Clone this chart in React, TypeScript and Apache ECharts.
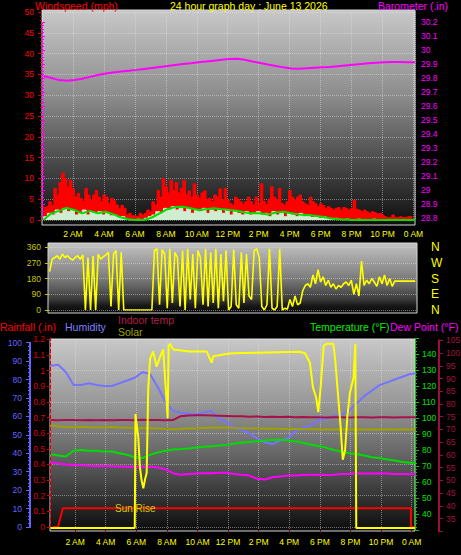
import React, { useEffect, useRef } from "react";
import * as echarts from "echarts";

const FONT = "'Liberation Sans', Arial, Helvetica, sans-serif";

// ---------- tick labels ----------
const timeLabels = ["2 AM", "4 AM", "6 AM", "8 AM", "10 AM", "12 PM", "2 PM", "4 PM", "6 PM", "8 PM", "10 PM", "0 AM"];
const timeTicks = [2, 4, 6, 8, 10, 12, 14, 16, 18, 20, 22, 24];
const compassTicks = [0, 90, 180, 270, 360];
const compassLabels = ["N", "E", "S", "W", "N"];

// ---------- panel 1 : wind (mph) & barometer (in) ----------
const gustStart = 0.1, gustStep = 1 / 6;
const windGust = [
  3.2, 3.0, 3.2, 4.4, 3.5, 7.6, 6.0, 9.0, 11.3, 10.0, 8.0, 9.5, 7.5, 5.5, 6.4, 5.2, 4.5, 7.6, 6.0, 4.8,
  6.0, 7.1, 5.5, 4.4, 6.0, 5.5, 4.0, 5.2, 4.6, 3.6, 2.8, 3.5, 2.8, 1.2, 1.6, 1.0, 1.0, 0.8, 1.6, 1.2,
  1.6, 2.4, 2.0, 4.4, 3.6, 7.1, 5.5, 10.0, 8.0, 6.5, 9.5, 7.1, 9.0, 6.5, 7.6, 9.5, 6.0, 7.0, 5.5, 8.7,
  6.0, 5.2, 6.5, 7.0, 5.0, 5.2, 4.4, 6.0, 5.5, 7.5, 4.8, 7.6, 4.8, 4.0, 3.6, 5.5, 5.0, 4.4, 3.8, 4.4,
  5.5, 4.4, 3.6, 5.5, 4.0, 8.7, 4.5, 3.8, 5.0, 8.0, 5.5, 4.8, 7.6, 4.0, 3.6, 4.4, 7.1, 5.5, 4.8, 5.5,
  6.0, 4.4, 3.9, 3.6, 5.5, 4.4, 3.9, 3.2, 3.9, 3.5, 2.8, 3.2, 2.8, 2.4, 2.8, 3.0, 2.4, 3.0, 2.8, 2.4,
  2.8, 4.8, 2.6, 2.4, 2.0, 2.4, 2.0, 1.6, 2.0, 1.8, 1.5, 1.6, 1.2, 0.8, 0.6, 0.6, 1.2, 0.6, 0.6, 0.8,
  0.6, 0.6, 0.8, 0.8,
];
const speedStart = 0.1, speedStep = 0.25;
const windSpeed = [
  0.4, 0.8, 1.6, 1.2, 2.4, 1.6, 2.8, 2.0, 2.4, 1.2, 1.6, 2.4, 1.2, 2.0, 1.6, 2.0, 1.2, 1.8, 1.0, 1.2,
  0.6, 0.8, 0.2, 0.0, 0.0, 0.2, 0.0, 0.4, 0.8, 1.2, 2.0, 1.6, 2.8, 2.4, 3.2, 2.4, 2.8, 2.0, 2.8, 1.6,
  2.4, 2.0, 2.8, 1.6, 2.4, 2.0, 2.4, 1.6, 2.4, 1.2, 2.0, 1.6, 1.2, 2.0, 1.2, 1.6, 2.0, 1.2, 1.6, 0.8,
  2.0, 1.2, 1.6, 0.8, 1.6, 1.2, 0.8, 1.6, 0.8, 1.2, 0.6, 0.8, 0.4, 0.8, 0.4, 0.2, 0.4, 0.2, 0.0, 0.2,
  0.0, 0.0, 0.2, 0.0, 0.0, 0.0, 0.2, 0.0, 0.0, 0.0, 0.0, 0.0, 0.0, 0.0, 0.0, 0.0,
];
const avgStart = 0.1, avgStep = 0.5;
const windAvg = [
  0.0, 1.6, 2.2, 2.9, 2.4, 1.6, 2.2, 1.6, 2.0, 1.4, 0.6, 0.2, 0.0, 0.0, 0.6, 1.6, 2.6, 3.1, 3.2, 2.8,
  2.4, 2.6, 2.8, 2.6, 2.4, 2.2, 1.8, 1.6, 1.6, 1.3, 1.8, 2.0, 1.6, 1.3, 1.2, 1.0, 0.8, 0.4, 0.2, 0.1,
  0.0, 0.0, 0.0, 0.0, 0.0, 0.0, 0.0, 0.0, 0.0,
];
const baroStart = 0.1, baroStep = 0.5;
const barometer = [
  29.814, 29.800, 29.785, 29.780, 29.786, 29.795, 29.808, 29.822, 29.832, 29.840,
  29.846, 29.852, 29.858, 29.865, 29.872, 29.879, 29.886, 29.893, 29.900, 29.906,
  29.913, 29.918, 29.924, 29.930, 29.936, 29.938, 29.930, 29.918, 29.907, 29.896,
  29.886, 29.876, 29.868, 29.866, 29.870, 29.873, 29.876, 29.879, 29.884, 29.890,
  29.895, 29.900, 29.906, 29.909, 29.912, 29.914, 29.914, 29.913, 29.912,
];

// ---------- panel 2 : wind direction (deg) ----------
const dirStart = 0.4, dirStep = 1 / 6;
const windDir = [
  220, 290, 300, 310, 290, 320, 300, 310, 295, 285, 300, 310, 290, 315, 0, 300, 0, 310, 0, 320,
  290, 305, 315, 330, 20, 320, 340, 0, 330, 0,
  0, 0, 0, 0, 0, 0, 0, 0, 0, 0, 0,
  340, 350, 30, 345, 320, 10, 350, 40, 330, 300, 20, 340, 0, 350, 60, 320, 10, 340, 300, 30,
  350, 20, 330, 40, 350, 10, 320, 50, 340, 0, 20, 345, 30, 10, 330, 40, 320, 80, 60, 340,
  350, 300, 20, 0, 30, 350, 10, 0, 20, 350, 0, 10, 5, 60, 20, 80, 30, 40, 110,
  140, 150, 130, 200, 150, 230, 160, 190, 140, 170, 130, 150, 120, 140, 130, 150, 160, 140, 170, 90,
  150, 80, 280, 140, 170, 150, 180, 160, 135, 190, 150, 200, 140, 180, 135,
  165, 165, 165, 165, 165, 165, 165, 165, 165,
];

// ---------- panel 3 ----------
const p3Start = 0.4, p3Step = 0.5;
const humidity = [
  87.5, 88, 84, 77, 77, 78, 77, 76.5, 76.5, 78, 79.5, 81, 84, 83, 76, 68, 63, 62, 61.5, 61,
  62, 63, 59, 57, 54, 52.5, 51, 48, 46, 45, 47, 48, 52, 54, 55, 58, 59, 60, 61, 63,
  67, 71, 74, 77, 78.5, 80, 81.5, 83, 83.5,
];
const temperature = [
  77.3, 76.5, 76, 79.5, 80, 79.5, 79.5, 79, 79, 78, 77, 75.5, 75, 77, 78.5, 79.5, 80.3, 80.6, 81, 81.5,
  82, 82.3, 82.8, 83.2, 84, 84.5, 85, 85.5, 86, 86.3, 86.5, 86, 85.5, 84.5, 83.5, 82.5, 81.5, 80, 79, 78,
  77.5, 76.5, 75.5, 75, 74, 73.5, 72.5, 72, 72,
];
const dewPoint = [
  72, 71.5, 71, 70.6, 70.4, 70.2, 70, 70, 69.8, 69.7, 69.6, 69.6, 69.6, 69.5, 69, 68, 65.5, 64.5, 65, 65.3,
  65.5, 65.5, 65.8, 65.8, 65, 64.5, 64, 62, 61.5, 63, 63.5, 64, 64, 64.3, 64.5, 64.5, 64.3, 64.5, 65, 65,
  65.5, 65.3, 65.3, 65.5, 65.3, 65, 65, 64.8, 64.8,
];
const indoorTemp = [
  73.7, 73.6, 73.7, 73.7, 73.6, 73.7, 73.6, 73.7, 73.6, 73.7,
  73.7, 73.6, 73.8, 73.7, 73.7, 73.6, 73.7, 75.2, 75.5, 75.6,
  75.6, 75.5, 75.4, 75.3, 75.2, 75.2, 75.0, 75.1, 74.9, 75.0,
  74.9, 75.0, 74.8, 74.9, 74.8, 74.8, 74.7, 74.8, 74.8, 74.7,
  74.8, 74.8, 74.7, 74.8, 74.8, 74.7, 74.8, 74.8, 74.8,
];
const solar = [
  71.7, 71.2, 71.0, 70.9, 71.1, 70.9, 70.8, 70.9, 71.0, 70.8,
  70.7, 70.5, 70.6, 70.5, 70.4, 70.3, 70.1, 70.2, 70.5, 70.4,
  70.6, 70.8, 70.7, 70.8, 70.6, 70.5, 70.4, 70.5, 70.3, 70.4,
  70.2, 70.3, 70.2, 70.1, 70.2, 70.0, 70.1, 70.0, 70.1, 70.0,
  70.1, 70.0, 70.1, 70.0, 70.1, 70.0, 70.1, 70.0, 70.0,
];
const rainHours = [0.55, 0.88, 1.2, 23.95, 23.95, 24.22];
const rainfall = [0, 0, 0.12, 0.12, 0, 0];
const sunHours = [
  0.4, 5.9, 5.95, 6.03, 6.13, 6.24, 6.35, 6.46, 6.58, 6.68, 6.78, 6.9, 7.1, 7.33, 7.55, 7.76, 7.98, 8.05, 8.12, 8.2,
  8.42, 9.5, 10.6, 10.93, 11.03, 11.9, 12.3, 14.5, 16.7, 17.03, 17.35, 17.55, 17.75, 17.9, 18.05, 18.25, 18.44, 18.88, 19.0, 19.1,
  19.2, 19.35, 19.5, 19.65, 19.8, 19.96, 20.2, 20.32, 20.38, 24.22,
];
const sunLevel = [
  1, 1, 61, 55, 49, 33, 26, 22, 27, 30, 74, 90, 94, 86, 91, 95, 68, 59, 97, 98,
  95, 94, 94, 88, 91.5, 92.6, 93, 93.4, 93.8, 93, 88, 75, 70, 62, 75, 97, 98, 98, 90, 80,
  70, 55, 37, 42, 60, 72, 80, 98, 1, 1,
];

// ---------- helpers ----------
const seq = (start: number, step: number, vals: number[]) =>
  vals.map((v, i) => [Math.round((start + i * step) * 1000) / 1000, v]);
const zip = (xs: number[], ys: number[]) => xs.map((x, i) => [x, ys[i]]);

const timeFmt = (v: number) => {
  const k = Math.round(v);
  if (Math.abs(v - k) > 1e-6 || k <= 0 || k % 2 !== 0) return "";
  return timeLabels[k / 2 - 1] ?? "";
};

const dotted = { show: true, lineStyle: { color: "rgba(232,232,232,0.45)", width: 1, type: "dotted" } };
const num = (color: string, margin: number, extra: any = {}) => ({
  color, fontSize: 8.5, fontFamily: FONT, margin, ...extra,
});
const tick = (color: string, length = 4) => ({ show: true, length, lineStyle: { color, width: 1 } });
const minor = (color: string, n = 5) => ({ show: true, splitNumber: n, length: 2, lineStyle: { color, width: 1 } });
const hiddenX = (gridIndex: number, min: number, max: number) => ({ type: "value", gridIndex, min, max, show: false });
const gridRect = (left: number, top: number, width: number, height: number) => ({
  left, top, width, height, containLabel: false, outerBoundsMode: "none",
});
const line = (name: string, xi: number, yi: number, data: any[], color: string, width = 2, extra: any = {}) => ({
  name, type: "line", xAxisIndex: xi, yAxisIndex: yi, data, symbol: "none", silent: true,
  lineStyle: { color, width }, itemStyle: { color }, ...extra,
});
const bg = (x: number, y: number, w: number, h: number, stops: [number, string][]) => ({
  type: "rect", z: -10, silent: true,
  shape: { x, y, width: w, height: h },
  style: {
    fill: new echarts.graphic.LinearGradient(0, 0, 0, 1, stops.map(([offset, color]) => ({ offset, color }))),
    stroke: "#d6d6d6", lineWidth: 1,
  },
});
const label = (text: string, x: number, y: number, fill: string, fontSize = 10.5) => ({
  type: "text", x, y, z: 20, silent: true,
  style: { text, fill, fontSize, fontFamily: FONT, align: "left", verticalAlign: "top" },
});

export default function App() {
  const ref = useRef<HTMLDivElement>(null);
  useEffect(() => {
    const chart = echarts.init(ref.current!, null, { renderer: "svg" });
    const option: any = {
      animation: false,
      backgroundColor: "#000000",
      grid: [
        gridRect(42, 12, 373, 208), // 0 wind
        gridRect(42, 22, 373, 196), // 1 barometer
        gridRect(49, 247, 368, 63), // 2 direction
        gridRect(50, 339.3, 365, 187.7), // 3 rainfall
        gridRect(50, 342.7, 365, 184.3), // 4 humidity
        gridRect(50, 338, 365, 192), // 5 temperature
        gridRect(50, 340.3, 365, 191.1), // 6 indoor
        gridRect(50, 340, 365, 190), // 7 sun
      ],
      xAxis: [
        {
          type: "value", gridIndex: 0, min: 0, max: 24.1, interval: 2,
          axisLine: { show: false }, axisTick: { show: false },
          axisLabel: { color: "#ffff00", fontSize: 8.5, fontFamily: FONT, margin: 9, formatter: timeFmt },
          splitLine: dotted,
        },
        hiddenX(1, 0, 24.1),
        hiddenX(2, 0.36, 24.35),
        hiddenX(3, 0.36, 24.22),
        hiddenX(4, 0.36, 24.22),
        hiddenX(5, 0.36, 24.22),
        hiddenX(6, 0.36, 24.22),
        {
          type: "value", gridIndex: 7, min: 0.36, max: 24.22,
          axisLine: { show: false },
          axisTick: { show: true, length: 3, customValues: timeTicks, lineStyle: { color: "#800000" } },
          axisLabel: { color: "#ffff00", fontSize: 8.5, fontFamily: FONT, margin: 7, customValues: timeTicks, formatter: timeFmt },
          splitLine: dotted,
        },
      ],
      yAxis: [
        { // 0 windspeed
          type: "value", gridIndex: 0, position: "left", min: 0, max: 50, interval: 5,
          axisLine: { show: false }, axisTick: tick("#cc0000"), minorTick: minor("#cc0000"),
          axisLabel: num("#ff0000", 8), splitLine: dotted, minorSplitLine: { show: false },
        },
        { // 1 barometer
          type: "value", gridIndex: 1, position: "right", min: 28.8, max: 30.2, interval: 0.1,
          axisLine: { show: true, lineStyle: { color: "#ff00ff", type: "dotted", width: 1 } },
          axisTick: tick("#ff00ff", 3), minorTick: minor("#ff00ff", 4),
          axisLabel: num("#ff00ff", 6), splitLine: { show: false },
        },
        { // 2 direction degrees
          type: "value", gridIndex: 2, position: "left", min: 0, max: 360, interval: 90,
          axisLine: { show: false }, axisTick: tick("#c8c800"),
          axisLabel: num("#c8c800", 8), splitLine: dotted,
        },
        { // 3 compass letters
          type: "value", gridIndex: 2, position: "right", min: 0, max: 360, interval: 90,
          axisLine: { show: false }, axisTick: { show: false }, splitLine: { show: false },
          axisLabel: {
            color: "#ffff00", fontSize: 12, fontFamily: FONT, margin: 14,
            formatter: (v: number) => compassLabels[compassTicks.indexOf(Math.round(v))] ?? "",
          },
        },
        { // 4 rainfall
          type: "value", gridIndex: 3, position: "left", min: 0, max: 1.2, interval: 0.1,
          axisLine: { show: true, lineStyle: { color: "#dd0000", type: "dashed", width: 1 } },
          axisTick: tick("#dd0000", 3), axisLabel: num("#dd0000", 5), splitLine: { show: false },
        },
        { // 5 rainfall grid lines
          type: "value", gridIndex: 3, position: "left", min: 0, max: 1.2, interval: 0.2,
          axisLine: { show: false }, axisTick: { show: false }, axisLabel: { show: false }, splitLine: dotted,
        },
        { // 6 humidity
          type: "value", gridIndex: 4, position: "left", offset: 20, min: 0, max: 100, interval: 10,
          axisLine: { show: true, lineStyle: { color: "#6464ff", width: 2 } },
          axisTick: tick("#6464ff"), minorTick: minor("#6464ff"),
          axisLabel: num("#6464ff", 8), splitLine: { show: false },
        },
        { // 7 temperature
          type: "value", gridIndex: 5, position: "right", min: 30, max: 150, interval: 10,
          axisLine: { show: true, lineStyle: { color: "#00cc00", type: "dotted", width: 1 } },
          axisTick: tick("#00cc00"), minorTick: minor("#00cc00"),
          axisLabel: num("#00e000", 7, { formatter: (v: number) => (v <= 30 || v >= 150 ? "" : String(v)) }),
          splitLine: { show: false },
        },
        { // 8 indoor temp
          type: "value", gridIndex: 6, position: "right", offset: 24, min: 30, max: 105, interval: 5,
          axisLine: { show: true, lineStyle: { color: "#99103c", width: 2 } },
          axisTick: tick("#99103c"),
          axisLabel: num("#a0143f", 7, { formatter: (v: number) => (v <= 30 ? "" : String(v)) }),
          splitLine: { show: false },
        },
        { type: "value", gridIndex: 7, min: 0, max: 100, show: false }, // 9 sun
      ],
      series: [
        line("Wind gust", 0, 0, seq(gustStart, gustStep, windGust), "#ff0000", 1,
          { step: "start", areaStyle: { color: "#ff0000", opacity: 1 }, z: 2 }),
        line("Wind speed", 0, 0, seq(speedStart, speedStep, windSpeed), "#cfeecf", 1,
          { step: "start", areaStyle: { color: "#cfeecf", opacity: 1 }, z: 3 }),
        line("Average wind", 0, 0, seq(avgStart, avgStep, windAvg), "#00dd00", 2, { z: 4 }),
        line("Barometer", 1, 1, seq(baroStart, baroStep, barometer), "#ff00ff", 2, { z: 5 }),
        line("Wind direction", 2, 2, seq(dirStart, dirStep, windDir), "#ffff00", 1.6, { z: 5 }),
        line("Rainfall", 3, 4, zip(rainHours, rainfall), "#ff0000", 2, { z: 3 }),
        line("Humidity", 4, 6, seq(p3Start, p3Step, humidity), "#7474ff", 2, { z: 4 }),
        line("Temperature", 5, 7, seq(p3Start, p3Step, temperature), "#00dd00", 2, { z: 4 }),
        line("Dew Point", 5, 7, seq(p3Start, p3Step, dewPoint), "#ff00ff", 2, { z: 4 }),
        line("Indoor temp", 6, 8, seq(p3Start, p3Step, indoorTemp), "#a8124a", 2, { z: 4 }),
        line("Solar", 6, 8, seq(p3Start, p3Step, solar), "#a0a000", 2, { z: 4 }),
        line("Sun", 7, 9, zip(sunHours, sunLevel), "#ffff00", 2, { z: 6 }),
      ],
      graphic: [
        bg(42, 10, 373, 215, [[0, "#c8c8c8"], [0.4, "#8c8c8c"], [0.65, "#565656"], [0.88, "#262626"], [1, "#0e0e0e"]]),
        bg(48, 243, 369, 70, [[0, "#c4c4c4"], [0.5, "#7c7c7c"], [0.8, "#3c3c3c"], [0.9, "#161616"], [1, "#0c0c0c"]]),
        bg(50, 339, 365, 192, [[0, "#c8c8c8"], [0.32, "#9a9a9a"], [0.58, "#6a6a6a"], [0.84, "#303030"], [1, "#0c0c0c"]]),
        label("Windspeed (mph)", 35, 0, "#ff0000"),
        label("24 hour graph day : June 13 2026", 170, 0, "#ffff00"),
        label("Barometer (.in)", 378, 0, "#ff00ff"),
        label("Rainfall (.in)", 0, 321, "#ff0000"),
        label("Humidity", 65, 321, "#8080ff"),
        label("Indoor temp", 118, 314, "#b0204a"),
        label("Solar", 118, 326, "#a0a000"),
        label("Temperature (°F)", 310, 321, "#00ee00"),
        label("Dew Point (°F)", 390, 321, "#ff00ff"),
        label("Sun Rise", 115, 503, "#d0d000", 10),
      ],
    };
    chart.setOption(option);
    return () => chart.dispose();
  }, []);
  return (
    <div
      ref={ref}
      style={{ position: "absolute", left: 0, top: 0, width: 461, height: 555, background: "#000" }}
    />
  );
}
